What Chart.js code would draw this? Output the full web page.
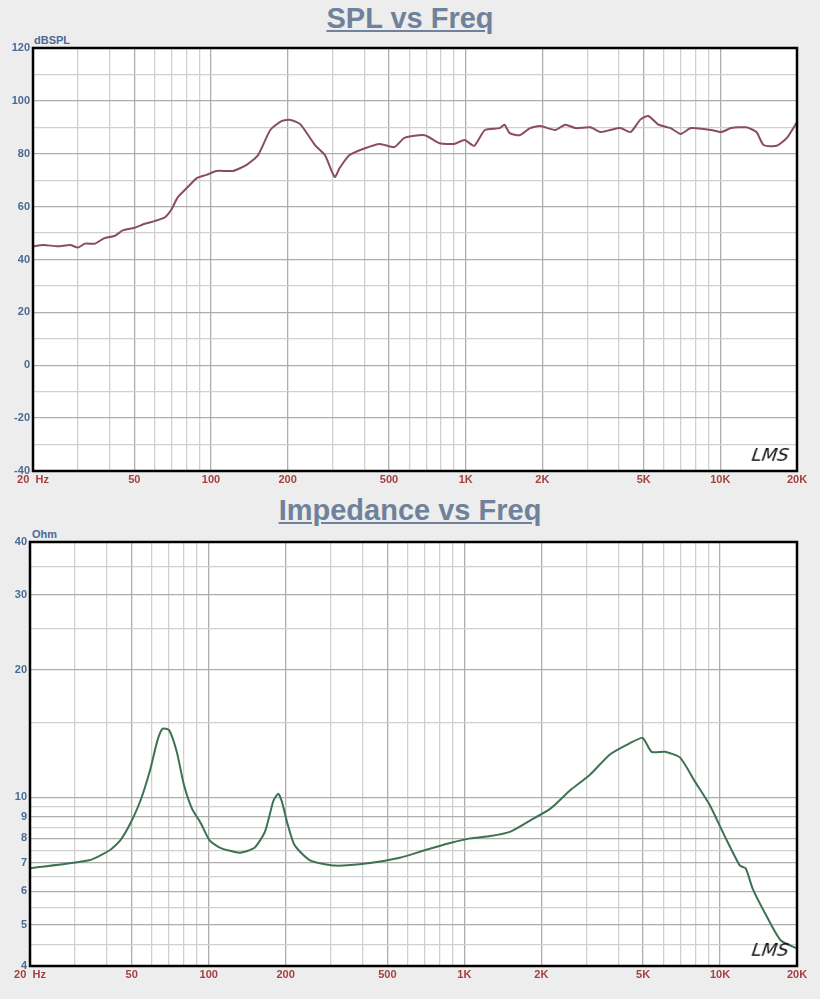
<!DOCTYPE html>
<html><head><meta charset="utf-8">
<script src="https://cdn.jsdelivr.net/npm/chart.js@4/dist/chart.umd.min.js"></script>
<style>
body{margin:0;background:#ecedec;width:820px;height:999px;overflow:hidden;position:relative;font-family:Arial,"Liberation Sans",sans-serif}
.t{position:absolute;left:0;width:820px;text-align:center;font-weight:bold;font-size:29px;color:#6f819b;text-decoration:underline}
.u{position:absolute;font-size:11px;font-weight:bold;color:#4a6a94}
.c{position:absolute;left:0;width:820px;height:470px}
.lms{position:absolute;font-family:"DejaVu Sans",sans-serif;font-style:italic;font-size:18px;color:#111;letter-spacing:0px;transform:skewX(-8deg)}
</style></head><body>
<div class="t" style="top:2px">SPL vs Freq</div>
<div class="t" style="top:494px">Impedance vs Freq</div>
<div class="u" style="left:34px;top:34px">dBSPL</div>
<div class="u" style="left:32px;top:528px">Ohm</div>
<div class="c" style="top:30px"><canvas id="c1" width="820" height="470"></canvas></div>
<div class="c" style="top:525px"><canvas id="c2" width="820" height="470"></canvas></div>
<div class="lms" style="left:752px;top:444px">LMS</div>
<div class="lms" style="left:752px;top:939px">LMS</div>
<script>
const splFreq=[20,22,25,28,30,32,35,38,42,45,50,55,60,66,70,74,81,88,96,105,122,138,153,171,190,205,224,256,280,306,320,350,400,460,525,575,690,790,900,990,1080,1190,1360,1420,1490,1630,1790,1960,2250,2460,2700,3090,3380,3700,4050,4440,4860,5220,5720,6380,6990,7670,9200,10070,11030,12650,13860,14780,16650,18260,20000];
const splVals=[45,45.5,45,45.5,44.5,46,46,48,49,51,52,53.5,54.5,56,59,63.5,67.4,70.8,72,73.5,73.5,75.8,79.5,89,92.4,92.8,91.2,83.3,79.5,71.2,74.6,79.5,82,83.7,82.5,86,87,84,83.7,85.2,83,89,89.7,91,87.8,87,89.7,90.5,89,91,89.7,90,88.2,89,89.7,88.2,93,94.3,91,89.7,87.5,89.7,89,88.2,89.7,90,88.2,83.3,83,86,92];
const impFreq=[20,34,41,45,49,54,59,63,66,70,75,80,86,93,101,111,132,151,166,179,187,193,204,217,249,312,427,559,700,880,1054,1264,1515,1800,2170,2600,3100,3700,4430,4980,5400,6100,6980,7970,9100,10430,11960,12600,13400,15070,17250,20000];
const impVals=[6.8,7.1,7.5,7.9,8.6,9.8,11.6,13.6,14.5,14.4,12.8,10.7,9.4,8.7,7.9,7.6,7.4,7.6,8.3,9.8,10.2,9.8,8.6,7.7,7.1,6.9,7.0,7.2,7.5,7.8,8.0,8.1,8.3,8.8,9.4,10.4,11.3,12.6,13.4,13.8,12.8,12.8,12.4,10.9,9.6,8.1,6.9,6.8,6.1,5.3,4.6,4.4];
const freqGrid=[20,30,40,50,60,70,80,90,100,200,300,400,500,600,700,800,900,1000,2000,3000,4000,5000,6000,7000,8000,9000,10000,20000];
const freqLabels={20:"20  Hz",50:"50",100:"100",200:"200",500:"500",1000:"1K",2000:"2K",5000:"5K",10000:"10K",20000:"20K"};
const splTickLabels=[-40,-20,0,20,40,60,80,100,120];
const impGrid=[4,4.5,5,5.5,6,6.5,7,7.5,8,8.5,9,9.5,10,15,20,25,30,35,40];
const impLabels=[4,5,6,7,8,9,10,20,30,40];

const border={id:'bd',afterDraw(c){const a=c.chartArea,x=c.ctx;x.save();x.strokeStyle='#000';x.lineWidth=2.5;x.strokeRect(a.left,a.top,a.right-a.left,a.bottom-a.top);x.restore();}};
const bg={id:'bg',beforeDraw(c){const a=c.chartArea,x=c.ctx;x.save();x.fillStyle='#fff';x.fillRect(a.left,a.top,a.right-a.left,a.bottom-a.top);x.restore();}};
function xAxis(){return{type:'logarithmic',min:20,max:20000,
 afterBuildTicks:s=>{s.ticks=freqGrid.map(v=>({value:v}));},
 afterFit:s=>{s.height=29;},
 ticks:{autoSkip:false,maxRotation:0,color:'#a4403f',font:{size:11,weight:'bold'},padding:2,callback:v=>freqLabels[v]||''},
 grid:{color:c=>freqLabels[c.tick.value]?'#adadad':'#d0d0d0',lineWidth:1.3,drawTicks:false},border:{display:false}};}
function mk(id,fx,vals,color,y,top,left){
 return new Chart(document.getElementById(id),{type:'line',
 data:{datasets:[{data:fx.map((f,i)=>({x:f,y:vals[i]})),borderColor:color,borderWidth:2,pointRadius:0,tension:0.2,fill:false}]},
 options:{responsive:false,animation:false,layout:{padding:{top:top,right:23,left:0,bottom:0}},
 plugins:{legend:{display:false},tooltip:{enabled:false}},
 scales:{x:xAxis(),y:Object.assign(y,{afterFit:s=>{s.width=left;}})}},plugins:[bg,border]});}
mk('c1',splFreq,splVals,'#8a4a68',{min:-40,max:120,
 afterBuildTicks:s=>{const t=[];for(let v=-40;v<=120;v+=10)t.push({value:v});s.ticks=t;},
 ticks:{color:'#4a6a94',font:{size:11,weight:'bold'},padding:3,callback:v=>splTickLabels.includes(v)?String(v):''},
 grid:{color:c=>c.tick.value%20===0?'#adadad':'#d0d0d0',lineWidth:1.3,drawTicks:false},border:{display:false}},18,33);
mk('c2',impFreq,impVals,'#3e7252',{type:'logarithmic',min:4,max:40,
 afterBuildTicks:s=>{s.ticks=impGrid.map(v=>({value:v}));},
 ticks:{autoSkip:false,color:'#4a6a94',font:{size:11,weight:'bold'},padding:3,callback:v=>impLabels.includes(v)?String(v):''},
 grid:{color:c=>impLabels.includes(c.tick.value)?'#adadad':'#d0d0d0',lineWidth:1.3,drawTicks:false},border:{display:false}},17,30);
</script></body></html>
